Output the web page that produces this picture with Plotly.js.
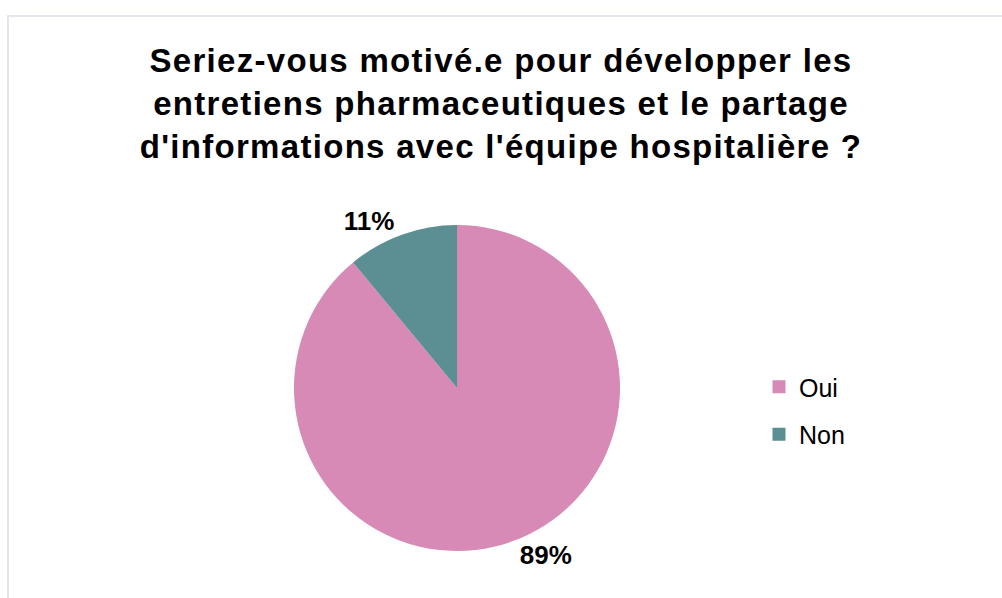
<!DOCTYPE html>
<html>
<head>
<meta charset="utf-8">
<script src="https://cdn.plot.ly/plotly-3.0.1.min.js"></script>
<style>
html,body{margin:0;padding:0;background:#fff}
#chart{width:1002px;height:598px}
#chart .gtitle{letter-spacing:1.3px}
</style>
</head>
<body>
<div id="chart"></div>
<script>
const categories = ['Oui', 'Non'];
const values = [89, 11];
const colors = ['#d68ab5', '#5b8f93'];
const titleText = "Seriez-vous motivé.e pour développer les<br>entretiens pharmaceutiques et le partage<br>d'informations avec l'équipe hospitalière ?";

const W = 1002, H = 598;
const cx = 457, cy = 388, r = 163;
const FONT = 'Liberation Sans, Arial, sans-serif';

const pie = {
  type: 'pie',
  labels: categories,
  values: values,
  sort: false,
  direction: 'clockwise',
  rotation: 0,
  marker: {colors: colors, line: {width: 0}},
  texttemplate: '%{percent:.0%}',
  textposition: 'outside',
  textfont: {family: FONT, size: 26, color: '#000', weight: 'bold'},
  outsidetextfont: {family: FONT, size: 26, color: '#000', weight: 'bold'},
  automargin: false,
  showlegend: false,
  hoverinfo: 'label+percent',
  domain: {x: [(cx - r) / W, (cx + r) / W], y: [(H - cy - r) / H, (H - cy + r) / H]}
};

const legendTraces = categories.map((c, i) => ({
  type: 'scatter',
  mode: 'markers',
  x: [null], y: [null],
  name: c,
  legendgroup: 'g' + i,
  marker: {symbol: 'square', size: 13, color: colors[i]},
  hoverinfo: 'skip'
}));

const layout = {
  width: W, height: H,
  margin: {l: 0, r: 0, t: 0, b: 0},
  paper_bgcolor: '#fff',
  plot_bgcolor: '#fff',
  font: {family: FONT, color: '#000'},
  title: {
    text: titleText,
    font: {family: FONT, size: 33, color: '#000', weight: 'bold'},
    x: 0.5, xanchor: 'center', xref: 'paper',
    y: 1 - 72 / H, yanchor: 'top', yref: 'container'
  },
  xaxis: {visible: false},
  yaxis: {visible: false},
  showlegend: true,
  legend: {
    x: 759 / W, xanchor: 'left',
    y: 1 - 364 / H, yanchor: 'top',
    font: {family: FONT, size: 25, color: '#000'},
    traceorder: 'grouped',
    tracegroupgap: 12,
    bgcolor: 'rgba(0,0,0,0)'
  },
  shapes: [{
    type: 'rect', xref: 'paper', yref: 'paper',
    x0: 8 / W, x1: 1.05, y0: -0.05, y1: 1 - 16 / H,
    line: {color: '#e3e7ee', width: 2}
  }]
};

Plotly.newPlot('chart', [pie].concat(legendTraces), layout, {displayModeBar: false, staticPlot: true});
</script>
</body>
</html>
